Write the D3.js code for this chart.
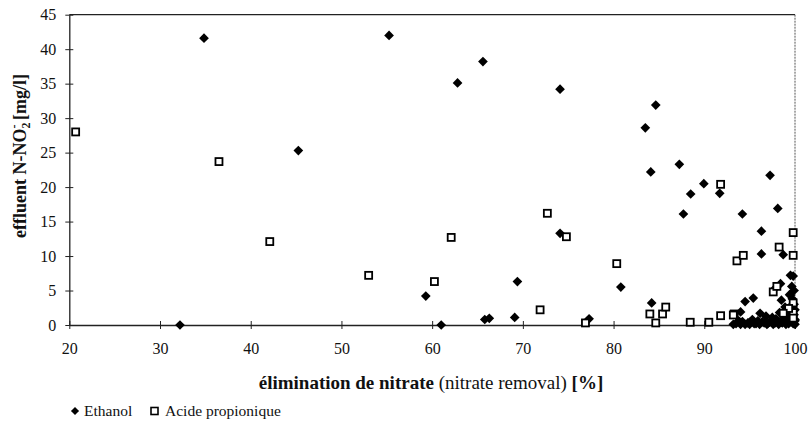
<!DOCTYPE html>
<html><head><meta charset="utf-8">
<script src="https://cdn.jsdelivr.net/npm/d3@7"></script>
<style>
body{margin:0;background:#fff;}
text{font-family:"Liberation Serif","DejaVu Serif",serif;fill:#111;}
</style></head>
<body>
<svg id="c" width="808" height="430"></svg>
<script>
// Data
const ethanolX = [32.2,34.85,45.25,55.25,59.3,61.0,62.8,65.6,65.8,66.3,69.1,69.4,74.1,74.1,77.3,80.8,83.5,84.65,84.1,84.2,87.25,88.5,87.7,89.95,91.7,97.25,94.2,98.1,96.3,96.3,98.7,99.8,94.5,95.4,98.4,97.8,99.5,99.65,99.5,94.0,96.15,98.5,99.5,
  93.5,94.2,94.8,95.3,95.7,96.4,96.8,97.2,97.6,97.9,98.3,98.6,98.9,99.2,99.5,99.7,99.8,99.9,100,100,99.4,99.9,100,99.7,95.0,93.8,97.0,98.0,99.0,99.9,
  94.5,95.0,95.9,96.1,96.6,97.4,97.8,98.2,98.8,99.3,99.6,100,93.2,94.0,95.5,96.9,97.5,98.5,99.1];
const ethanolY = [0,41.6,25.3,42.0,4.2,0,35.1,38.2,0.8,0.97,1.1,6.3,13.3,34.2,0.9,5.5,28.6,31.9,22.2,3.2,23.3,19.0,16.1,20.5,19.1,21.7,16.1,16.9,13.6,10.3,10.2,7.1,3.4,3.9,6.0,5.3,7.2,5.6,4.3,1.9,1.7,3.6,2.7,
  0.2,0.5,0.3,0.8,0.2,0.5,1.3,0.4,0.1,0.9,1.8,0.3,2.6,0.6,1.2,3.8,0.2,5.0,2.2,0.1,4.4,1.5,0.6,0.9,0.1,0.6,0.2,0.5,0.1,3.0,
  0.1,0.4,0.6,0.1,0.3,0.7,0.3,0.1,1.0,0.2,0.5,0.8,0.1,0.1,0.2,0.1,1.1,0.4,1.6];
const propX = [20.7,36.5,42.1,53.0,60.25,62.1,72.7,74.8,71.9,76.9,80.35,84.0,84.65,85.4,85.75,88.45,91.8,90.5,91.8,93.3,93.6,94.3,98.25,99.8,99.8,97.6,98.0,99.8,99.8,99.8,99.3,98.7,93.2];
const propY = [28.0,23.7,12.1,7.2,6.3,12.7,16.2,12.8,2.2,0.3,8.9,1.6,0.3,1.6,2.6,0.4,20.4,0.4,1.35,1.6,9.3,10.1,11.3,13.4,10.1,4.8,5.6,3.2,1.8,1.0,2.4,1.7,1.45];
const xTicks = [20,30,40,50,60,70,80,90,100];
const yTicks = [0,5,10,15,20,25,30,35,40,45];

const FONT = "'Liberation Serif','DejaVu Serif',serif";
const svg = d3.select("#c");
const L=69.3, R=795, T=14.7, B=325;
const x = d3.scaleLinear().domain([20,100]).range([L,R]);
const y = d3.scaleLinear().domain([0,45]).range([B,T]);

// frame
svg.append("line").attr("x1",L).attr("x2",R).attr("y1",T).attr("y2",T).attr("stroke","#222").attr("stroke-width",1.3);
svg.append("line").attr("x1",R).attr("x2",R).attr("y1",T).attr("y2",B).attr("stroke","#555").attr("stroke-width",1).attr("stroke-dasharray","2,1");

// axes
const yAxis = d3.axisLeft(y).tickValues(yTicks).tickSizeInner(4).tickSizeOuter(0).tickPadding(9);
const gy = svg.append("g").attr("transform",`translate(${L},0)`).call(yAxis);
gy.selectAll(".tick line").attr("x1",4).attr("x2",-4);
const xAxis = d3.axisBottom(x).tickValues(xTicks).tickSizeInner(4).tickSizeOuter(0).tickPadding(14);
const gx = svg.append("g").attr("transform",`translate(0,${B})`).call(xAxis);
gx.selectAll(".tick line").attr("y1",-4).attr("y2",4);
[gx,gy].forEach(g=>{
  g.select(".domain").attr("stroke","#222").attr("stroke-width",1.3);
  g.selectAll(".tick line").attr("stroke","#222").attr("stroke-width",1);
  g.selectAll(".tick text").style("font-family",FONT).style("font-size","16px").attr("fill","#111");
});

// markers
const diamond = d3.symbol().type(d3.symbolDiamond2).size(60);
svg.append("g").selectAll("path").data(ethanolX.map((v,i)=>[v,ethanolY[i]])).join("path")
  .attr("d",diamond).attr("transform",d=>`translate(${x(d[0])},${y(d[1])})`).attr("fill","#000");
svg.append("g").selectAll("rect").data(propX.map((v,i)=>[v,propY[i]])).join("rect")
  .attr("x",d=>x(d[0])-3.5).attr("y",d=>y(d[1])-3.5).attr("width",7).attr("height",7)
  .attr("fill","#fff").attr("stroke","#000").attr("stroke-width",1.8);

// x title
const xt = svg.append("text").attr("x",431).attr("y",389).attr("text-anchor","middle").style("font-family",FONT).style("font-size","19px");
xt.append("tspan").attr("font-weight","bold").text("élimination de nitrate ");
xt.append("tspan").text("(nitrate removal) ");
xt.append("tspan").attr("font-weight","bold").text("[%]");

// y title
const yt = svg.append("text").attr("transform","translate(26,156) rotate(-90)").attr("text-anchor","middle")
  .style("font-family",FONT).style("font-size","18px").attr("font-weight","bold");
yt.append("tspan").text("effluent N-NO");
yt.append("tspan").attr("dy",4).style("font-size","12px").text("2");
yt.append("tspan").attr("dy",-12).attr("dx",-6).style("font-size","12px").text("-");
yt.append("tspan").attr("dy",8).text(" [mg/l]");

// legend
const lg = svg.append("g").attr("transform","translate(0,416)");
lg.append("path").attr("d",d3.symbol().type(d3.symbolDiamond2).size(42)).attr("transform","translate(75,-5)").attr("fill","#000");
lg.append("text").attr("x",84).attr("y",0).style("font-family",FONT).style("font-size","15.5px").text("Ethanol");
lg.append("rect").attr("x",151).attr("y",-8.5).attr("width",7).attr("height",7).attr("fill","#fff").attr("stroke","#000").attr("stroke-width",1.6);
lg.append("text").attr("x",165).attr("y",0).style("font-family",FONT).style("font-size","15.5px").text("Acide propionique");
</script>
</body></html>
